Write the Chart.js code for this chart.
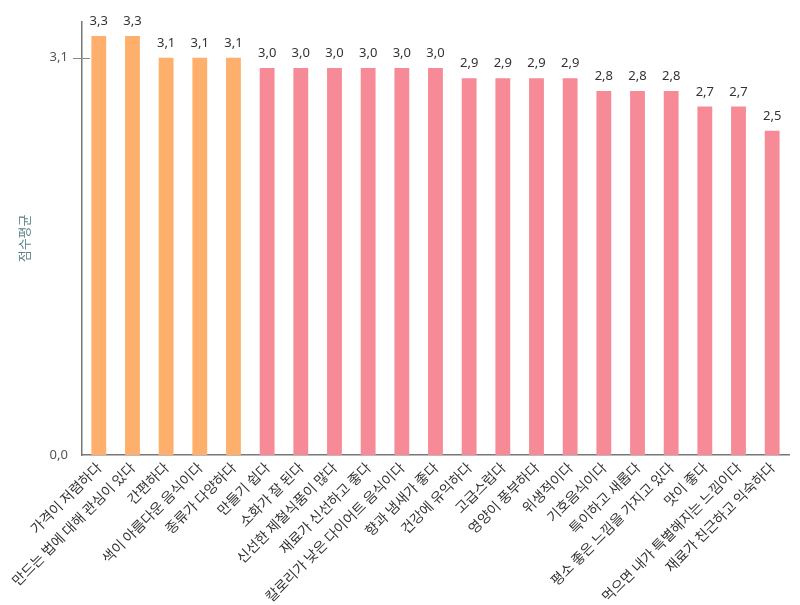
<!DOCTYPE html>
<html lang="ko">
<head>
<meta charset="utf-8">
<script src="https://cdn.jsdelivr.net/npm/chart.js@4"></script>
<style>
  html, body { margin: 0; padding: 0; background: #fff; }
  #wrap { width: 800px; height: 605px; position: relative; }
</style>
</head>
<body>
<div id="wrap"><canvas id="chart" width="800" height="605"></canvas></div>
<script>
// Categories (x labels)
const categories = [
  '가격이 저렴하다', '만드는 법에 대해 관심이 있다', '간편하다', '색이 아름다운 음식이다', '종류가 다양하다',
  '만들기 쉽다', '소화가 잘 된다', '신선한 제철식품이 많다', '재료가 신선하고 좋다', '칼로리가 낮은 다이어트 음식이다',
  '향과 냄새가 좋다', '건강에 유익하다', '고급스럽다', '영양이 풍부하다', '위생적이다',
  '기호음식이다', '특이하고 새롭다', '평소 좋은 느낌을 가지고 있다', '맛이 좋다', '먹으면 내가 특별해지는 느낌이다',
  '재료가 친근하고 익숙하다'
];
// Mean scores
const scores = [3.27, 3.27, 3.10, 3.10, 3.10, 3.02, 3.02, 3.02, 3.02, 3.02, 3.02, 2.94, 2.94, 2.94, 2.94, 2.84, 2.84, 2.84, 2.72, 2.72, 2.53];
// Group: first five highlighted in orange
const highlight = [1, 1, 1, 1, 1, 0, 0, 0, 0, 0, 0, 0, 0, 0, 0, 0, 0, 0, 0, 0, 0];
// Y tick values shown
const yTicks = [0, 3.1];

const ORANGE = '#fdaf6b';
const PINK = '#f68a96';
const fmt = v => v.toFixed(1).replace('.', ',');

// value labels above bars + tick marks crossing the y axis
const extras = {
  id: 'extras',
  afterDatasetsDraw(chart) {
    const { ctx } = chart;
    const meta = chart.getDatasetMeta(0);
    ctx.save();
    ctx.font = '13px "Noto Sans", "DejaVu Sans", sans-serif';
    ctx.fillStyle = '#333';
    ctx.textAlign = 'center';
    ctx.textBaseline = 'bottom';
    meta.data.forEach((bar, i) => {
      ctx.fillText(fmt(scores[i]), bar.x, bar.y - 8);
    });
    // tick marks crossing the axis
    const y = chart.scales.y;
    ctx.strokeStyle = '#888';
    ctx.lineWidth = 1;
    yTicks.forEach(v => {
      if (v === 0) return;
      const py = Math.round(y.getPixelForValue(v)) + 0.5;
      ctx.beginPath();
      ctx.moveTo(y.right - 9, py);
      ctx.lineTo(y.right + 8, py);
      ctx.stroke();
    });
    ctx.restore();
  }
};

new Chart(document.getElementById('chart'), {
  type: 'bar',
  data: {
    labels: categories,
    datasets: [{
      data: scores,
      backgroundColor: highlight.map(h => h ? ORANGE : PINK),
      borderWidth: 0,
      barPercentage: 0.44,
      categoryPercentage: 1.0
    }]
  },
  options: {
    responsive: false,
    animation: false,
    devicePixelRatio: 1,
    layout: { padding: { top: 20, right: 11, left: 12, bottom: 0 } },
    plugins: { legend: { display: false }, tooltip: { enabled: false } },
    scales: {
      x: {
        afterFit: s => { s.height = 150; },
        grid: { display: false, drawTicks: false },
        border: { color: '#777', width: 1.5 },
        ticks: {
          maxRotation: 45, minRotation: 45, autoSkip: false,
          color: '#333', padding: 4,
          font: { size: 14, family: '"Noto Sans CJK KR", sans-serif' }
        }
      },
      y: {
        min: 0, max: 3.38,
        afterBuildTicks: s => { s.ticks = yTicks.map(v => ({ value: v })); },
        grid: { display: false, drawTicks: false },
        border: { color: '#777', width: 1.5 },
        ticks: {
          color: '#555', padding: 14,
          font: { size: 13, family: '"Noto Sans", sans-serif' },
          callback: v => fmt(v)
        },
        title: {
          display: true, text: '점수평균', color: '#5d8589',
          font: { size: 13, family: '"Noto Sans CJK KR", sans-serif' }, padding: { bottom: 4 }
        }
      }
    }
  },
  plugins: [extras]
});
</script>
</body>
</html>
